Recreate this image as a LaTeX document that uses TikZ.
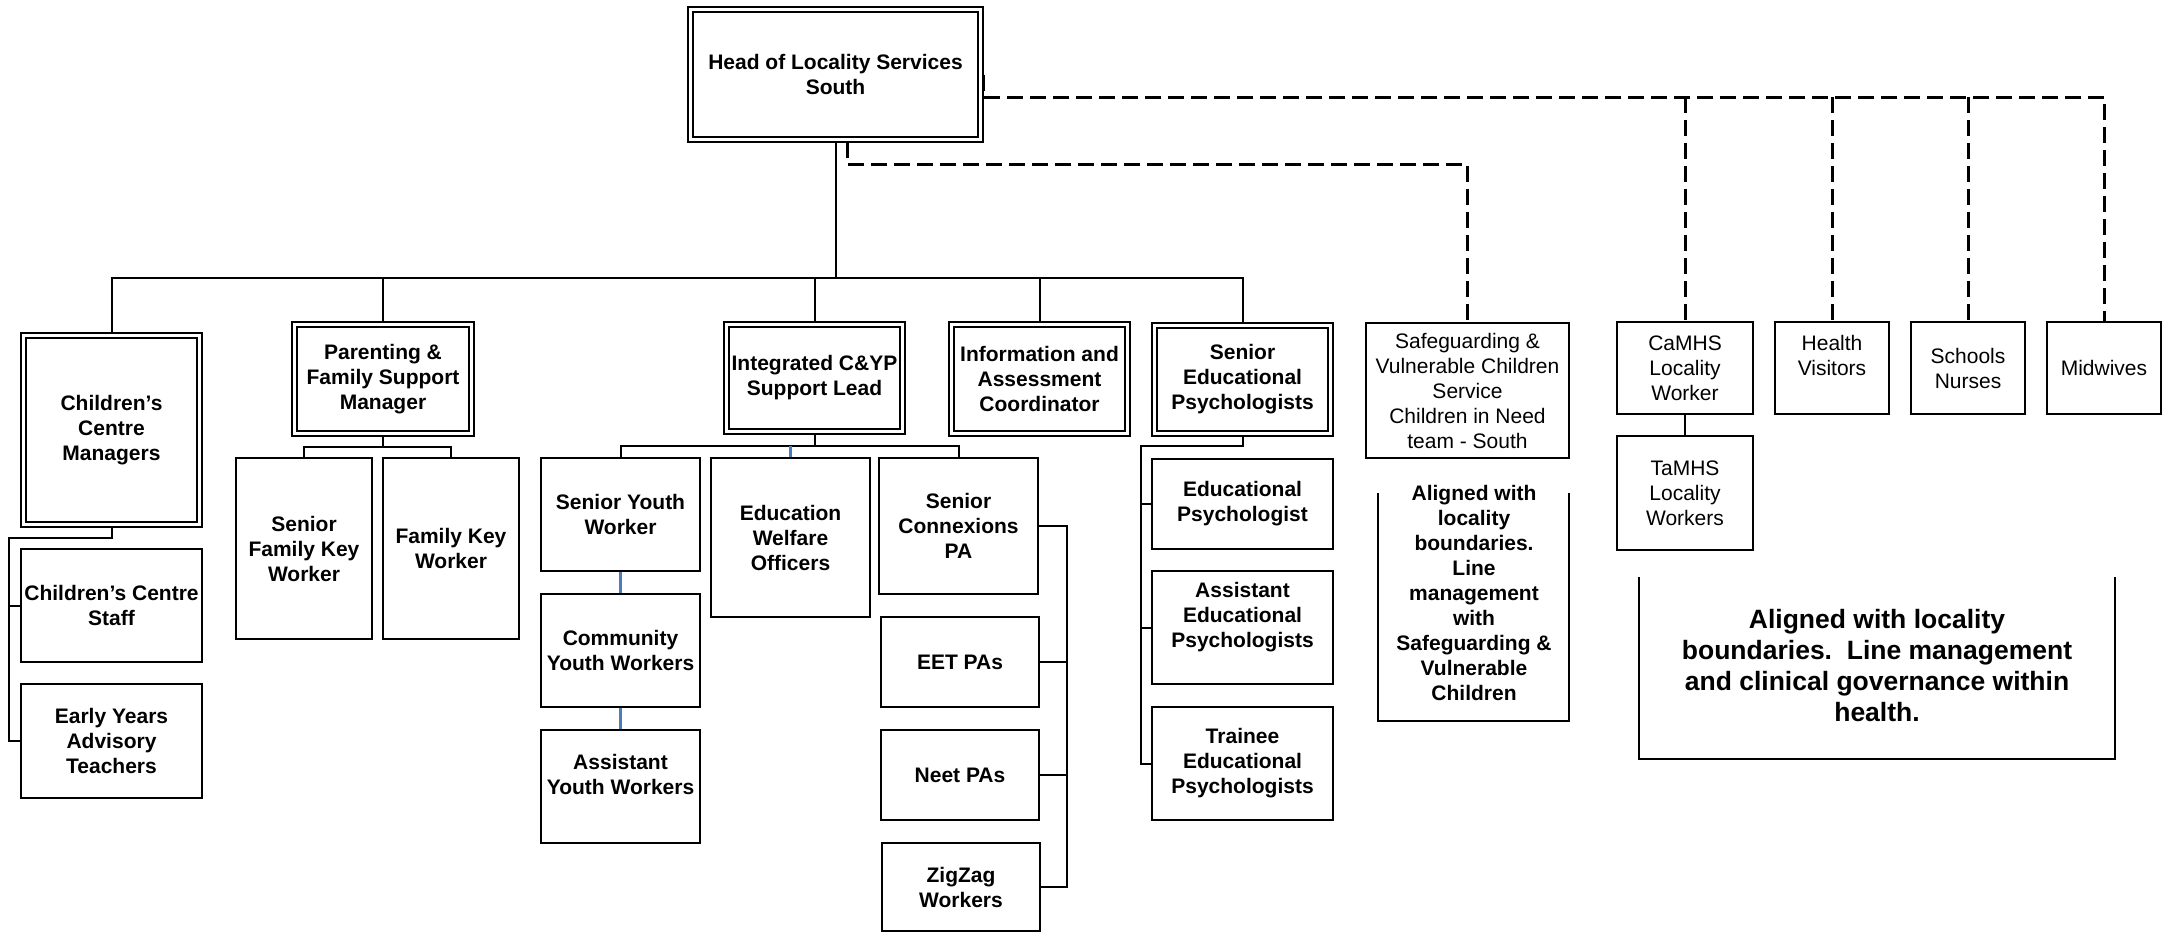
\documentclass[tikz,border=0pt]{standalone}
\usepackage{fontspec}
\setmainfont{Liberation Sans}
\usetikzlibrary{calc}
\pgfdeclarelayer{background}
\pgfsetlayers{background,main}

\definecolor{linkblue}{RGB}{74,126,187}

% \orgbox[extra keys]{style}{name}{x1}{y1}{x2}{y2}{text}
% places a box whose border runs through (x1,y1)-(x2,y2)
\newcommand{\orgbox}[8][]{%
  \node[#2, minimum width={(#6-#4)*0.5pt}, minimum height={(#7-#5)*0.5pt}, #1]
    (#3) at ({(#4+#6)/2},{(#5+#7)/2}) {#8};}

\tikzset{
  every node/.style={font=\fontsize{10.5}{12.5}\selectfont\bfseries,
    align=center, inner sep=0pt, outer sep=0pt},
  box/.style={draw, line width=0.9pt, fill=white},
  dbox/.style={draw, line width=0.8pt, double, double distance=1.7pt, fill=white},
  regtext/.style={font=\fontsize{10.5}{12.5}\selectfont},
  conn/.style={line width=1pt},
  bluelink/.style={line width=1.1pt, draw=linkblue},
  dashlink/.style={line width=1.5pt, dash pattern=on 8pt off 3.5pt},
}

\begin{document}
\begin{tikzpicture}[x=0.5pt, y=-0.5pt]
\useasboundingbox (0,0) rectangle (2176,933);

% ---- management tier
\orgbox{dbox}{head}{690.5}{9.5}{980.5}{139.5}{Head of Locality Services\\South}
\orgbox{dbox}{ccm}{23.5}{335.5}{199.5}{524.5}{Children’s\\Centre\\Managers}
\orgbox{dbox}{par}{294.5}{324.5}{471.5}{433.5}{Parenting \&\\Family Support\\Manager}
\orgbox{dbox}{int}{726.5}{324.5}{902.5}{431.5}{Integrated C\&YP\\Support Lead}
\orgbox{dbox}{info}{951.5}{324.5}{1127.5}{433.5}{Information and\\Assessment\\Coordinator}
\orgbox{dbox}{sep}{1154.5}{325.5}{1330.5}{433.5}{Senior\\Educational\\Psychologists}

% ---- children's centres
\orgbox{box}{ccstaff}{21}{549}{202}{662}{Children’s Centre\\Staff}
\orgbox{box}{eyat}{21}{684}{202}{798}{Early Years\\Advisory\\Teachers}

% ---- parenting & family support
\orgbox{box}{sfkw}{236}{458}{372}{639}{Senior\\Family Key\\Worker}
\orgbox{box}{fkw}{383}{458}{519}{639}{Family Key\\Worker}

% ---- integrated children & young people
\orgbox{box}{syw}{541}{458}{700}{571}{Senior Youth\\Worker}
\orgbox{box}{cyw}{541}{594}{700}{707}{Community\\Youth Workers}
\orgbox{box}{ayw}{541}{730}{700}{843}{Assistant\\Youth Workers\\\mbox{}}
\orgbox{box}{ewo}{711}{458}{870}{617}{Education\\Welfare\\Officers}
\orgbox{box}{scpa}{879}{458}{1038}{594}{Senior\\Connexions\\PA}
\orgbox{box}{eet}{881}{617}{1039}{707}{EET PAs}
\orgbox{box}{neet}{881}{730}{1039}{820}{Neet PAs}
\orgbox{box}{zig}{882}{843}{1040}{931}{ZigZag\\Workers}

% ---- educational psychology
\orgbox{box}{ep}{1152}{459}{1333}{549}{Educational\\Psychologist}
\orgbox{box}{aep}{1152}{571}{1333}{684}{Assistant\\Educational\\Psychologists\\\mbox{}}
\orgbox{box}{tep}{1152}{707}{1333}{820}{Trainee\\Educational\\Psychologists}

% ---- partner services
\orgbox[regtext]{box}{sg}{1366}{323}{1569}{458}{Safeguarding \&\\Vulnerable Children\\Service\\Children in Need\\team - South}
\orgbox[regtext]{box}{camhs}{1617}{322}{1753}{414}{CaMHS\\Locality\\Worker}
\orgbox[regtext]{box}{hv}{1775}{322}{1889}{414}{Health\\Visitors\\\mbox{}}
\orgbox[regtext]{box}{sn}{1911}{322}{2025}{414}{Schools\\Nurses}
\orgbox[regtext]{box}{mw}{2047}{322}{2161}{414}{Midwives}
\orgbox[regtext]{box}{tamhs}{1617}{436}{1753}{550}{TaMHS\\Locality\\Workers}

% ---- notes
\node (sgnote) at (1474,593)
  {Aligned with\\locality\\boundaries.\\Line\\management\\with\\Safeguarding \&\\Vulnerable\\Children};
\draw[conn] (1378,493) -- (1378,721) -- (1569,721) -- (1569,493);

\node[font=\fontsize{13.25}{15.5}\selectfont\bfseries] (hnote) at (1877,666)
  {Aligned with locality\\boundaries.\ \ Line management\\and clinical governance within\\health.};
\draw[conn] (1639,577) -- (1639,759) -- (2115,759) -- (2115,577);

% ---- connectors
\coordinate (bus) at (0,278);
\coordinate (ccspine) at (9,538);
\coordinate (parbus) at (0,447);
\coordinate (intbus) at (0,446);
\coordinate (cxspine) at (1067,0);
\coordinate (sepspine) at (1141,446);
\coordinate (hbus) at (0,97);
\coordinate (sbus) at (0,164);

\begin{pgfonlayer}{background}
  % line management
  \draw[conn] (head.south) -- (head.south |- bus);
  \draw[conn] (ccm.north) |- (sep.north |- bus) -- (sep.north);
  \foreach \n in {par,int,info} \draw[conn] (\n.north) -- (\n.north |- bus);

  \draw[conn] (ccm.south) |- (ccspine) |- (eyat.west);
  \draw[conn] (ccspine |- ccstaff.west) -- (ccstaff.west);

  \draw[conn] (par.south) -- (par.south |- parbus);
  \draw[conn] (sfkw.north) |- (par.south |- parbus) -| (fkw.north);

  \draw[conn] (int.south) -- (int.south |- intbus);
  \draw[conn] (syw.north) |- (int.south |- intbus) -| (scpa.north);
  \draw[bluelink] (ewo.north) -- (ewo.north |- intbus);
  \draw[bluelink] (syw.south) -- (cyw.north);
  \draw[bluelink] (cyw.south) -- (ayw.north);

  \draw[conn] (scpa.east) -| (cxspine |- zig.east) -- (zig.east);
  \draw[conn] (eet.east) -- (cxspine |- eet.east);
  \draw[conn] (neet.east) -- (cxspine |- neet.east);

  \draw[conn] (sep.south) |- (sepspine) |- (tep.west);
  \draw[conn] (sepspine |- ep.west) -- (ep.west);
  \draw[conn] (sepspine |- aep.west) -- (aep.west);

  \draw[conn] (camhs.south) -- (tamhs.north);

  % dotted-line relationships
  \draw[dashlink] ([xshift=1.5pt]head.east) |- (mw.north |- hbus) -- (mw.north);
  \foreach \n in {camhs,hv,sn} \draw[dashlink] (\n.north |- hbus) -- (\n.north);
  \draw[dashlink] ([xshift=5.75pt,yshift=-1.25pt]head.south) |- (sg.north |- sbus) -- (sg.north);
\end{pgfonlayer}
\end{tikzpicture}
\end{document}
